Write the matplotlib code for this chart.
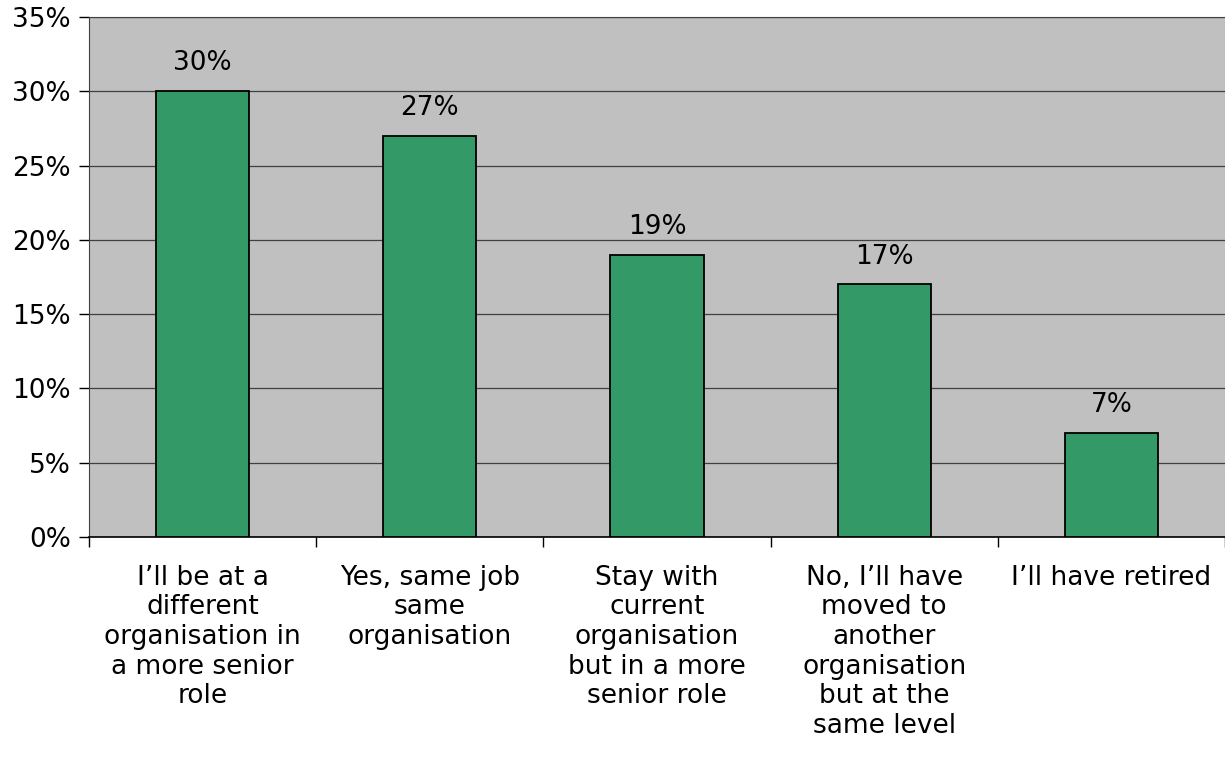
import matplotlib
matplotlib.use('Agg')
import matplotlib.pyplot as plt
import numpy as np

categories = [
    "I\u2019ll be at a\ndifferent\norganisation in\na more senior\nrole",
    "Yes, same job\nsame\norganisation",
    "Stay with\ncurrent\norganisation\nbut in a more\nsenior role",
    "No, I\u2019ll have\nmoved to\nanother\norganisation\nbut at the\nsame level",
    "I\u2019ll have retired",
]
values = [30, 27, 19, 17, 7]
y_ticks = [0, 5, 10, 15, 20, 25, 30, 35]

plt.rcParams['font.family'] = 'DejaVu Sans'
FS = 19

fig = plt.figure(figsize=(12.25, 7.67), dpi=100)
ax = fig.add_axes([89 / 1225, 1 - 537 / 767, 1 - 89 / 1225, (537 - 17) / 767])
ax.set_facecolor('#c0c0c0')

x = np.arange(len(values))
ax.bar(x, values, width=0.41, color='#339966', edgecolor='black', linewidth=1.3, zorder=3)

for xi, v in zip(x, values):
    ax.text(xi, v + 1.0, '%d%%' % v, ha='center', va='bottom', fontsize=FS)

ax.set_xlim(-0.5, len(values) - 0.5)
ax.set_ylim(0, 35)
ax.set_yticks(y_ticks)
ax.set_yticklabels(['%d%%' % t for t in y_ticks], fontsize=FS)
ax.yaxis.grid(True, color='#404040', linewidth=0.9, zorder=0)
ax.set_axisbelow(True)

# category boundaries carry the tick marks, centres carry the labels
ax.set_xticks(np.arange(len(values) + 1) - 0.5)
ax.set_xticklabels([])
ax.set_xticks(x, minor=True)
ax.set_xticklabels(categories, minor=True, fontsize=FS, linespacing=1.18)
ax.tick_params(axis='x', which='minor', length=0, pad=20)
ax.tick_params(axis='x', which='major', direction='out', length=7, width=1)
ax.tick_params(axis='y', direction='out', length=7, width=1, pad=6)

for side in ['left', 'top']:
    ax.spines[side].set_color('#404040')
ax.spines['bottom'].set_color('black')
ax.spines['bottom'].set_linewidth(1.2)
ax.spines['right'].set_visible(False)

fig.savefig('out.png', dpi=100)
